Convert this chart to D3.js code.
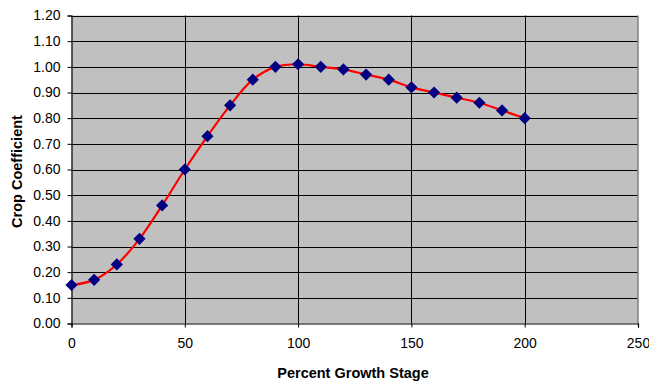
<!DOCTYPE html>
<html><head><meta charset="utf-8">
<script src="https://cdn.jsdelivr.net/npm/d3@7"></script>
<style>body{margin:0;background:#fff}svg{display:block}text{font-family:"Liberation Sans",Arial,sans-serif}</style>
</head><body>
<svg id="c" width="649" height="382"></svg>
<script>
const growth = [0,10,20,30,40,50,60,70,80,90,100,110,120,130,140,150,160,170,180,190,200];
const kc = [0.15,0.17,0.23,0.33,0.46,0.60,0.73,0.85,0.95,1.00,1.01,1.00,0.99,0.97,0.95,0.92,0.90,0.88,0.86,0.83,0.80];
const xTicks = [0,50,100,150,200,250];
const yTicks = [0,0.1,0.2,0.3,0.4,0.5,0.6,0.7,0.8,0.9,1.0,1.1,1.2];
const xTitle = "Percent Growth Stage";
const yTitle = "Crop Coefficient";

const svg = d3.select("#c");
const L=71.5, R=638, T=15.5, B=323.5;
const x = d3.scaleLinear().domain([0,250]).range([L,R]);
const y = d3.scaleLinear().domain([0,1.2]).range([B,T]);

svg.append("rect").attr("x",L).attr("y",T).attr("width",R-L).attr("height",B-T).attr("fill","#c0c0c0");
svg.append("g").selectAll("line").data(yTicks.slice(1)).join("line")
  .attr("x1",L).attr("x2",R).attr("y1",d=>Math.round(y(d))+0.5).attr("y2",d=>Math.round(y(d))+0.5)
  .attr("stroke","#000").attr("stroke-width",1);
svg.append("g").selectAll("line").data(xTicks.slice(1,-1)).join("line")
  .attr("y1",T).attr("y2",B).attr("x1",d=>Math.round(x(d))+0.5).attr("x2",d=>Math.round(x(d))+0.5)
  .attr("stroke","#000").attr("stroke-width",1);
svg.append("line").attr("x1",R).attr("x2",R).attr("y1",T).attr("y2",B).attr("stroke","#808080").attr("stroke-width",1.5);

const xAxis = svg.append("g").attr("transform",`translate(0,${B})`)
  .call(d3.axisBottom(x).tickValues(xTicks).tickSize(4).tickPadding(11).tickFormat(d3.format("d")));
const yAxis = svg.append("g").attr("transform",`translate(${L},0)`)
  .call(d3.axisLeft(y).tickValues(yTicks).tickSize(4).tickPadding(7).tickFormat(d3.format(".2f")));
[xAxis,yAxis].forEach(a=>{
  a.select(".domain").attr("stroke","#000").attr("stroke-width",1.2);
  a.selectAll(".tick line").attr("stroke","#000");
  a.selectAll("text").attr("font-size",14).attr("fill","#000").attr("font-family","Liberation Sans, Arial, sans-serif");
});

const line = d3.line().x((d,i)=>x(growth[i])).y(d=>y(d)).curve(d3.curveCatmullRom.alpha(0.5));
svg.append("path").datum(kc).attr("d",line).attr("fill","none").attr("stroke","#ff0000").attr("stroke-width",2.2);

svg.append("g").selectAll("path").data(kc).join("path")
  .attr("d",d3.symbol().type(d3.symbolDiamond2).size(95))
  .attr("transform",(d,i)=>`translate(${x(growth[i])},${y(d)})`)
  .attr("fill","#000080");

svg.append("text").attr("x",353).attr("y",378).attr("text-anchor","middle")
  .attr("font-weight","bold").attr("font-size",14.5).text(xTitle);
svg.append("text").attr("transform",`translate(22,${(T+B)/2+2}) rotate(-90)`).attr("text-anchor","middle")
  .attr("font-weight","bold").attr("font-size",14.5).text(yTitle);
</script>
</body></html>
